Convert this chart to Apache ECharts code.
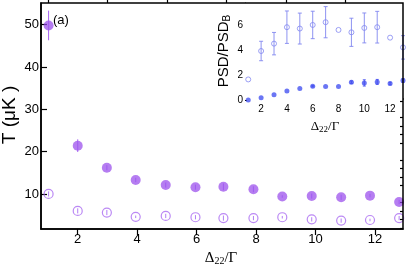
<!DOCTYPE html>
<html><head><meta charset="utf-8">
<script src="https://cdn.jsdelivr.net/npm/echarts@6/dist/echarts.min.js"></script>
<style>html,body{margin:0;padding:0;background:#fff}#c{width:407px;height:269px}</style>
</head><body><div id="c"></div>
<script>
// ---- data ----
const detuningMain = [1.02, 2.0, 2.98, 3.95, 4.96, 5.96, 6.9, 7.91, 8.88, 9.87, 10.86, 11.83, 12.81];
const tempFilled = [49.8, 21.4, 16.2, 13.3, 12.1, 11.6, 11.7, 11.1, 9.4, 9.5, 9.2, 9.6, 8.1];
const tempFilledErr = [3.5, 1.5, 0.6, 0.5, 0.6, 0.6, 0.8, 0.7, 0.3, 0.6, 0.6, 0.4, 0.5];
const tempOpen = [10.0, 6.0, 5.6, 4.6, 4.8, 4.5, 4.3, 4.3, 4.5, 4.0, 3.7, 3.85, 4.3];
const tempOpenErr = [0.6, 0.6, 0.6, 0.3, 0.5, 0.5, 0.6, 0.5, 0.3, 0.5, 0.5, 0.3, 0.5];

const detuningInset = [1, 2, 3, 4, 5, 6, 7, 8, 9, 10, 11, 12, 13];
const psdOpen = [1.65, 3.93, 4.52, 5.84, 5.73, 6.02, 6.24, 5.62, 5.43, 5.78, 5.84, 5.0, 4.22];
const psdOpenErr = [0, 0.78, 0.9, 1.3, 1.24, 1.1, 1.25, 0, 1.13, 1.2, 1.27, 0, 0.94];
const psdFilled = [0.0, 0.19, 0.43, 0.73, 0.92, 1.1, 1.08, 1.08, 1.43, 1.37, 1.45, 1.32, 1.56];
const psdFilledErr = [0, 0, 0, 0, 0, 0.05, 0, 0, 0.1, 0.25, 0.2, 0.1, 0.15];

const mainXLabels = [2, 4, 6, 8, 10, 12];
const mainXMinor = [1, 3, 5, 7, 9, 11, 13];
const mainYLabels = [10, 20, 30, 40, 50];
const mainYMinor = [2, 4, 6, 8, 12, 14, 16, 18, 22, 24, 26, 28, 32, 34, 36, 38, 42, 44, 46, 48, 52, 54];
const insetXLabels = [2, 4, 6, 8, 10, 12];
const insetXTicks = [1, 2, 3, 4, 5, 6, 7, 8, 9, 10, 11, 12, 13];
const insetYLabels = [0, 2, 4, 6];

// ---- helpers ----
const pts = (xs, ys) => xs.map((x, i) => [x, ys[i]]);
const errs = (xs, ys, es) => xs.map((x, i) => [x, ys[i] - es[i], ys[i] + es[i]]).filter((d, i) => es[i] > 0);
function errSeries(data, xi, yi, color, cap, z) {
  return {
    type: 'custom', xAxisIndex: xi, yAxisIndex: yi, data: data, z: z, silent: true,
    encode: { x: 0, y: [1, 2] },
    renderItem: function (params, api) {
      const x = api.value(0), lo = api.value(1), hi = api.value(2);
      const a = api.coord([x, lo]), b = api.coord([x, hi]);
      const st = { stroke: color, lineWidth: 1 };
      const ch = [{ type: 'line', shape: { x1: a[0], y1: a[1], x2: b[0], y2: b[1] }, style: st }];
      if (cap > 0) {
        ch.push({ type: 'line', shape: { x1: a[0] - cap, y1: a[1], x2: a[0] + cap, y2: a[1] }, style: st });
        ch.push({ type: 'line', shape: { x1: b[0] - cap, y1: b[1], x2: b[0] + cap, y2: b[1] }, style: st });
      }
      return { type: 'group', children: ch };
    }
  };
}

const SANS = '"Liberation Sans", Arial, Helvetica, sans-serif';
const SERIF = '"Liberation Serif", "Times New Roman", serif';
const X0 = 0.765, X1 = 12.94;

const chart = echarts.init(document.getElementById('c'), null, { renderer: 'canvas' });
chart.setOption({
  animation: false,
  backgroundColor: '#fff',
  grid: [
    { left: 41, right: 4, top: 3, bottom: 40, show: true, borderColor: '#000', borderWidth: 1.5, backgroundColor: 'transparent', z: 5 },
    { left: 245, right: 4, top: 3, bottom: 169, show: true, borderWidth: 0, backgroundColor: '#fff', z: 1 }
  ],
  xAxis: [
    { type: 'value', gridIndex: 0, min: X0, max: X1, splitLine: { show: false },
      axisLine: { lineStyle: { color: '#000', width: 1.5 } },
      axisTick: { customValues: mainXLabels, length: 6, inside: false, lineStyle: { color: '#000', width: 1.2 } },
      axisLabel: { customValues: mainXLabels, fontFamily: SANS, fontSize: 13, color: '#000', margin: 4 } },
    { type: 'value', gridIndex: 0, min: X0, max: X1, splitLine: { show: false },
      axisLine: { show: false },
      axisTick: { customValues: mainXMinor, length: 3, inside: false, lineStyle: { color: '#000', width: 1.2 } },
      axisLabel: { show: false } },
    { type: 'value', gridIndex: 1, min: 0.75, max: 13, splitLine: { show: false },
      axisLine: { show: false },
      axisTick: { customValues: insetXTicks, length: 2, inside: true, lineStyle: { color: '#666', width: 1 } },
      axisLabel: { customValues: insetXLabels, fontFamily: SANS, fontSize: 10, color: '#000', margin: 4 } }
  ],
  yAxis: [
    { type: 'value', gridIndex: 0, min: 1.72, max: 55.1, splitLine: { show: false },
      axisLine: { lineStyle: { color: '#000', width: 1.5 } },
      axisTick: { customValues: mainYLabels, length: 6, inside: true, lineStyle: { color: '#000', width: 1.2 } },
      axisLabel: { customValues: mainYLabels, fontFamily: SANS, fontSize: 13, color: '#000', margin: 2 } },
    { type: 'value', gridIndex: 0, min: 1.72, max: 55.1, splitLine: { show: false },
      axisLine: { show: false },
      axisTick: { customValues: mainYMinor, length: 3, inside: true, lineStyle: { color: '#000', width: 1.2 } },
      axisLabel: { show: false } },
    { type: 'value', gridIndex: 1, min: 0, max: 7.78, splitLine: { show: false },
      axisLine: { lineStyle: { color: '#000', width: 1 } },
      axisTick: { customValues: insetYLabels, length: 2, inside: true, lineStyle: { color: '#000', width: 1 } },
      axisLabel: { customValues: insetYLabels, fontFamily: SANS, fontSize: 10, color: '#000', margin: 2 } }
  ],
  series: [
    errSeries(errs(detuningMain, tempFilled, tempFilledErr), 0, 0, 'rgba(160,90,240,0.95)', 0, 3),
    errSeries(errs(detuningMain, tempOpen, tempOpenErr), 0, 0, 'rgba(170,110,245,0.9)', 0, 3),
    { type: 'scatter', xAxisIndex: 0, yAxisIndex: 0, data: pts(detuningMain, tempFilled), symbol: 'circle', symbolSize: 10, z: 2,
      itemStyle: { color: 'rgba(150,70,235,0.88)' } },
    { type: 'scatter', xAxisIndex: 0, yAxisIndex: 0, data: pts(detuningMain, tempOpen), symbol: 'circle', symbolSize: 9, z: 2,
      itemStyle: { color: 'rgba(255,255,255,0)', borderColor: 'rgba(165,100,240,0.95)', borderWidth: 1.2 } },
    errSeries(errs(detuningInset, psdOpen, psdOpenErr), 2, 2, 'rgba(130,135,240,0.9)', 2, 3),
    errSeries(errs(detuningInset, psdFilled, psdFilledErr), 2, 2, 'rgba(70,80,240,0.9)', 1.5, 3),
    { type: 'scatter', xAxisIndex: 2, yAxisIndex: 2, data: pts(detuningInset, psdOpen), symbol: 'circle', symbolSize: 5, z: 2,
      itemStyle: { color: 'rgba(255,255,255,0)', borderColor: 'rgba(125,130,240,0.95)', borderWidth: 1 } },
    { type: 'scatter', xAxisIndex: 2, yAxisIndex: 2, data: pts(detuningInset, psdFilled), symbol: 'circle', symbolSize: 5, z: 2,
      itemStyle: { color: 'rgba(60,75,240,0.95)' } }
  ],
  graphic: [
    { type: 'text', x: 53, y: 14, z: 10, style: { text: '(a)', font: '13px ' + SANS, fill: '#000' } },
    { type: 'text', x: 10, y: 115, rotation: Math.PI / 2, z: 10,
      style: { text: 'T (μK )', font: '19px ' + SANS, fill: '#000', align: 'center', verticalAlign: 'middle' } },
    { type: 'text', x: 221, y: 258, z: 10,
      style: { text: 'Δ{s|22}/Γ', font: '15px ' + SERIF, fill: '#000', align: 'center', verticalAlign: 'middle',
        rich: { s: { fontFamily: SERIF, fontSize: 10, verticalAlign: 'bottom', padding: [6, 0, 0, 0] } } } },
    { type: 'text', x: 325, y: 127, z: 10,
      style: { text: 'Δ{s|22}/Γ', font: '13px ' + SERIF, fill: '#000', align: 'center', verticalAlign: 'middle',
        rich: { s: { fontFamily: SERIF, fontSize: 9, verticalAlign: 'bottom', padding: [5, 0, 0, 0] } } } },
    { type: 'text', x: 224, y: 51, rotation: Math.PI / 2, z: 10,
      style: { text: 'PSD/PSD{s|B}', font: '15px ' + SANS, fill: '#000', align: 'center', verticalAlign: 'middle',
        rich: { s: { fontFamily: SANS, fontSize: 10, verticalAlign: 'bottom', padding: [6, 0, 0, 0] } } } }
  ]
});
</script></body></html>
